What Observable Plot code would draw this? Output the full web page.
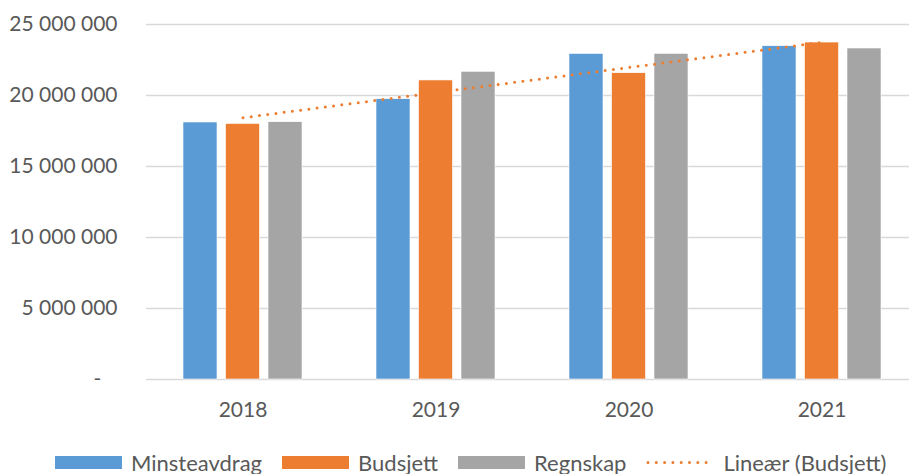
<!DOCTYPE html>
<html>
<head>
<meta charset="utf-8">
<script src="https://cdn.jsdelivr.net/npm/d3@7"></script>
<script src="https://cdn.jsdelivr.net/npm/@observablehq/plot@0.6"></script>
<style>
  html, body { margin: 0; padding: 0; background: #fff; }
  body { width: 909px; height: 474px; position: relative; overflow: hidden; font-family: Lato, "Liberation Sans", sans-serif; }
  #chart svg { display: block; }
  #legend { position: absolute; left: 55px; top: 449px; height: 26px; display: flex; align-items: center; font-size: 22px; color: #595959; white-space: nowrap; }
  .item { display: flex; align-items: center; margin-right: 20px; }
  .sw { width: 67px; height: 13px; margin-right: 9px; }
</style>
</head>
<body>
<div id="chart"></div>
<div id="legend"></div>
<script>
const years = ["2018", "2019", "2020", "2021"];
const seriesNames = ["Minsteavdrag", "Budsjett", "Regnskap"];
const minsteavdrag = [18100000, 19740000, 22930000, 23470000];
const budsjett = [18000000, 21060000, 21570000, 23730000];
const regnskap = [18120000, 21670000, 22930000, 23310000];
const yTicks = [0, 5000000, 10000000, 15000000, 20000000, 25000000];
const trendLabel = "Lineær (Budsjett)";

const colors = ["#5B9BD5", "#ED7D31", "#A5A5A5"];
const textColor = "#595959";
const font = "Lato, 'Liberation Sans', sans-serif";

const rows = (vals) => years.map((y, i) => ({year: y, value: vals[i]}));

// linear trend of Budsjett (least squares)
const xs = years.map((_, i) => i);
const mx = d3.mean(xs), my = d3.mean(budsjett);
const slope = d3.sum(xs, (x, i) => (x - mx) * (budsjett[i] - my)) / d3.sum(xs, x => (x - mx) ** 2);
const trend = years.map((y, i) => ({year: y, value: my + slope * (i - mx)}));

// inner layout inside each year band (step 193px)
const step = 193, barW = 34, gap = 8.5;
const outer = (step - 3 * barW - 2 * gap) / 2;
const insets = [0, 1, 2].map(k => {
  const l = outer + k * (barW + gap);
  return {insetLeft: l, insetRight: step - l - barW};
});

const fmt = d => d === 0 ? "-\u00a0\u00a0\u00a0" : d3.format(",")(d).replace(/,/g, "\u00a0");

const plot = Plot.plot({
  width: 909,
  height: 440,
  marginLeft: 146,
  marginRight: 0,
  marginTop: 24,
  marginBottom: 61,
  style: {fontFamily: font, fontSize: "21px", color: textColor, background: "#fff"},
  x: {type: "band", domain: years, range: [146, 146 + 4 * step], padding: 0},
  y: {domain: [0, 25000000]},
  marks: [
    Plot.ruleY(yTicks, {stroke: "#D9D9D9", strokeWidth: 1.3}),
    ...[minsteavdrag, budsjett, regnskap].map((vals, k) =>
      Plot.barY(rows(vals), {x: "year", y: "value", fill: colors[k], stroke: "#fff", strokeWidth: 0.6, ...insets[k]})
    ),
    Plot.lineY(trend, {x: "year", y: "value", stroke: "#ED7D31", strokeWidth: 3, strokeDasharray: "0 8.3", strokeLinecap: "round"}),
    Plot.axisY({ticks: yTicks, tickSize: 0, tickPadding: 29, tickFormat: fmt, fill: textColor, fontSize: 21, label: null}),
    Plot.axisX({tickSize: 0, tickPadding: 23, fill: textColor, fontSize: 21, label: null})
  ]
});
document.getElementById("chart").appendChild(plot);

// legend
const legend = document.getElementById("legend");
seriesNames.forEach((name, k) => {
  const it = document.createElement("div");
  it.className = "item";
  it.innerHTML = `<div class="sw" style="background:${colors[k]}"></div><span>${name}</span>`;
  legend.appendChild(it);
});
const tr = document.createElement("div");
tr.className = "item";
tr.innerHTML = `<svg width="69" height="13" style="margin-right:8px"><line x1="2" x2="68" y1="6.5" y2="6.5" stroke="#ED7D31" stroke-width="3" stroke-dasharray="0 8.3" stroke-linecap="round"/></svg><span>${trendLabel}</span>`;
legend.appendChild(tr);
</script>
</body>
</html>
